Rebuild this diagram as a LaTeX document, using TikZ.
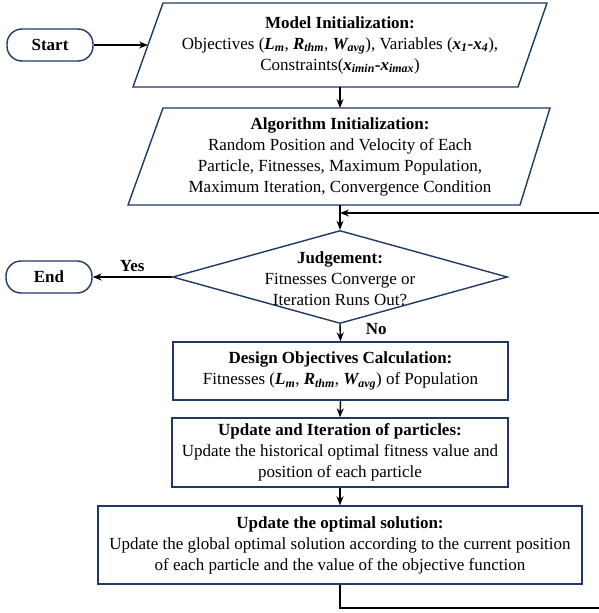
\documentclass[tikz,border=0pt]{standalone}
\usepackage{fontspec}
\setmainfont{Liberation Serif}
\usetikzlibrary{arrows.meta,shapes.geometric}
\definecolor{navy}{HTML}{1F3864}

\newcommand{\bivar}[2]{\textbf{\textit{#1\textsubscript{#2}}}}

\tikzset{
  frame/.style={draw=navy, line width=1.4pt},
  terminal/.style={frame, rounded corners=15pt, minimum width=86pt, minimum height=32pt,
    inner sep=0pt, font=\fontsize{17}{21}\selectfont\bfseries},
  procbox/.style={frame, inner sep=0pt, align=center},
  txt/.style={align=center, inner sep=0pt, font=\fontsize{17}{21}\selectfont},
  flow/.style={line width=1.4pt, -{Stealth[length=9pt,width=7pt]}},
  lbl/.style={inner sep=0pt, font=\fontsize{17}{21}\selectfont\bfseries},
}

\begin{document}
\begin{tikzpicture}[x=1pt,y=-1pt]
\useasboundingbox (0,0) rectangle (598,613);

% terminals
\node[terminal] (start) at (50,45) {Start};
\node[terminal] (end) at (49,277) {End};

% model initialization (parallelogram)
\coordinate (mi-w) at (148,45);
\coordinate (mi-s) at (340,87);
\draw[frame] (163,3) -- (547,3) -- (518,87) -- (133,87) -- cycle;
\node[txt] (mi) at (340,45) {\textbf{Model Initialization:}\\
  Objectives (\bivar{L}{m}, \bivar{R}{thm}, \bivar{W}{avg}), Variables (\bivar{x}{1}\textbf{-}\bivar{x}{4}),\\
  Constraints(\bivar{x}{imin}\textbf{-}\bivar{x}{imax})};

% algorithm initialization (parallelogram)
\coordinate (ai-n) at (340,108);
\coordinate (ai-s) at (340,205);
\draw[frame] (163,108) -- (550,108) -- (520,205) -- (128,205) -- cycle;
\node[txt] (ai) at (340,157) {\textbf{Algorithm Initialization:}\\
  Random Position and Velocity of Each\\
  Particle, Fitnesses, Maximum Population,\\
  Maximum Iteration, Convergence Condition};

% judgement (decision)
\node[frame, diamond, minimum width=335pt, minimum height=93pt, inner sep=0pt] (jd) at (340,277) {};
\node[txt] (jt) at (340,279) {\textbf{Judgement:}\\ Fitnesses Converge or\\ Iteration Runs Out?};

% process boxes
\node[procbox, minimum width=335pt, minimum height=58pt] (doc) at (340.5,371) {};
\node[txt] at (doc.center) {\textbf{Design Objectives Calculation:}\\
  Fitnesses (\bivar{L}{m}, \bivar{R}{thm}, \bivar{W}{avg}) of Population};

\node[procbox, minimum width=336pt, minimum height=69pt] (upi) at (340,452.5) {};
\node[txt] at (upi.center) {\textbf{Update and Iteration of particles:}\\
  Update the historical optimal fitness value and\\
  position of each particle};

\node[procbox, minimum width=484pt, minimum height=78pt] (uos) at (340,545) {};
\node[txt] at (uos.center) {\textbf{Update the optimal solution:}\\
  Update the global optimal solution according to the current position\\
  of each particle and the value of the objective function};

% feedback loop runs past the right edge of the page
\coordinate (loop-j) at (340,213);
\coordinate (loop-b) at (340,608);
\coordinate (loop-r) at (602,608);
\coordinate (loop-t) at (602,213);

\draw[flow] (start.east) -- (mi-w);
\draw[flow] (mi-s) -- (ai-n);
\draw[flow] (ai-s) -- (jd.north);
\draw[flow] (jd.west) -- node[lbl, above=5pt] {Yes} (end.east);
\draw[flow] (jd.south) -- node[lbl, right=25pt, pos=0.3] {No} (doc.north);
\draw[flow] (doc.south) -- (upi.north);
\draw[flow] (upi.south) -- (uos.north);
\draw[flow] (uos.south) -- (loop-b) -- (loop-r) -- (loop-t) -- (loop-j);
\end{tikzpicture}
\end{document}
